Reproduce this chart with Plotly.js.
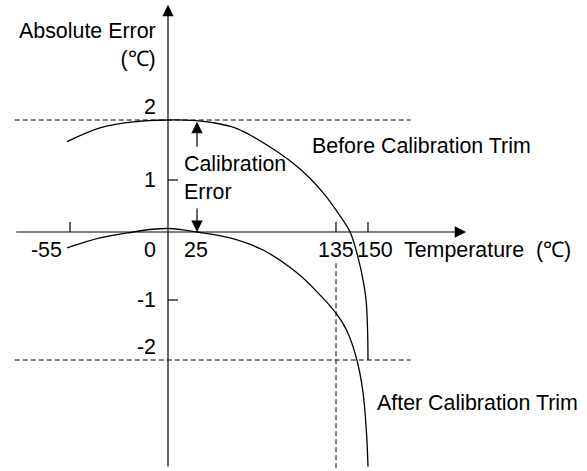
<!DOCTYPE html>
<html>
<head>
<meta charset="utf-8">
<script src="https://cdn.plot.ly/plotly-3.0.1.min.js"></script>
<style>
  html, body { margin: 0; padding: 0; background: #fff; }
  #chart { width: 587px; height: 471px; }
</style>
</head>
<body>
<div id="chart"></div>
<script>
// Labelled temperatures on the horizontal axis (°C)
const xTickTemps = [-55, 0, 25, 135, 150];
const xTickText = ['-55', '0', '25', '135', '150'];
// Labelled error values on the vertical axis (°C)
const yTickErrors = [2, 1, -1, -2];
const yTickText = ['2', '1', '-1', '-2'];

// Error band limits (dashed guides) and the reference temperatures
const errorLimits = [2, -2];
const limitTemp = 135;
const calibrationTemp = 25;

// Absolute error before the calibration trim
const beforeTemp = [-56.7, -38.2, -19.6, 0, 24.1, 39.2, 55.1, 66.9, 82.8, 98.6, 114.4, 126.3, 136.9, 141.6, 145.3, 147.7, 149.1, 149.8, 150];
const beforeErr  = [1.64, 1.87, 1.97, 2.0, 1.99, 1.95, 1.87, 1.75, 1.55, 1.32, 1.03, 0.71, 0.31, 0, -0.37, -0.71, -1.0, -1.5, -2.0];

// Absolute error after the calibration trim
const afterTemp = [-56.7, -38.2, -19.6, -10.1, 0, 12.9, 25, 51.1, 77.2, 104.1, 120, 135, 140.2, 144.8, 147.7, 149.3, 150];
const afterErr  = [-0.235, -0.088, 0, 0.048, 0.067, 0.042, 0, -0.088, -0.265, -0.6, -0.88, -1.22, -1.52, -2.0, -2.55, -3.22, -3.78];

// The sketch is not drawn to scale: each labelled value sits at a fixed
// spot along its axis and the axis is stretched linearly in between.
const xScaleKeys  = [-55, 0, 25, 135, 150];
const xScaleSpots = [0, 98, 127, 266, 298];
const yScaleKeys  = [-2, -1, 0, 1, 2];
const yScaleSpots = [0, 60, 128, 180, 240];

function warp(v, keys, spots) {
  const n = keys.length;
  let i = 0;
  if (v >= keys[n - 1]) i = n - 2;
  else if (v > keys[0]) { while (v > keys[i + 1]) i++; }
  const f = (v - keys[i]) / (keys[i + 1] - keys[i]);
  return spots[i] + f * (spots[i + 1] - spots[i]);
}
const tx = t => warp(t, xScaleKeys, xScaleSpots);
const ty = e => warp(e, yScaleKeys, yScaleSpots);

// Extent of the drawn axes and guides, in °C
const axisTempFrom = -86, axisTempTo = 196;
const axisErrFrom = -3.8, axisErrTo = 3.92;
const guideTempTo = 170;
const limitTopErr = -0.46;

const ink = '#000';
const fontFamily = 'Liberation Sans, Arial, sans-serif';
const textFont = { family: fontFamily, size: 21.4, color: ink };

const curveLine = { color: ink, width: 1.3, shape: 'spline', smoothing: 1 };
const traces = [
  { x: beforeTemp.map(tx), y: beforeErr.map(ty), mode: 'lines', line: curveLine, hoverinfo: 'skip' },
  { x: afterTemp.map(tx), y: afterErr.map(ty), mode: 'lines', line: curveLine, hoverinfo: 'skip' }
];

const dashed = { color: ink, width: 1, dash: '5px,3px' };
const shapes = [];
errorLimits.forEach(e => shapes.push({
  type: 'line', xref: 'x', yref: 'y',
  x0: tx(axisTempFrom), x1: tx(guideTempTo), y0: ty(e), y1: ty(e), line: dashed
}));
shapes.push({
  type: 'line', xref: 'x', yref: 'y',
  x0: tx(limitTemp), x1: tx(limitTemp), y0: ty(limitTopErr), y1: ty(axisErrFrom), line: dashed
});

// Small tick marks: upward on the temperature axis, rightward on the error axis
const tickLine = { color: ink, width: 1.2 };
[-55, 135, 150].forEach(t => shapes.push({
  type: 'line', xref: 'x', yref: 'y', ysizemode: 'pixel', yanchor: ty(0),
  x0: tx(t), x1: tx(t), y0: 0, y1: 10, line: tickLine
}));
[1, -1].forEach(e => shapes.push({
  type: 'line', xref: 'x', yref: 'y', xsizemode: 'pixel', xanchor: tx(0),
  x0: 0, x1: 10, y0: ty(e), y1: ty(e), line: tickLine
}));

function arrow(t1, e1, t0, e0) {
  return {
    xref: 'x', yref: 'y', axref: 'x', ayref: 'y',
    x: tx(t1), y: ty(e1), ax: tx(t0), ay: ty(e0),
    text: '', showarrow: true, arrowhead: 2, arrowsize: 1.9, arrowwidth: 1.2,
    arrowcolor: ink, standoff: 0, startstandoff: 0
  };
}
function label(text, t, e, xanchor, yanchor, extra) {
  return Object.assign({
    xref: 'x', yref: 'y', x: tx(t), y: ty(e), text: text,
    showarrow: false, xanchor: xanchor, yanchor: yanchor,
    font: textFont, borderpad: 0, borderwidth: 0
  }, extra || {});
}

const annotations = [
  // axes with arrow heads
  arrow(axisTempTo, 0, axisTempFrom, 0),
  arrow(0, axisErrTo, 0, axisErrFrom),
  // calibration error span at 25 °C
  arrow(calibrationTemp, 1.97, calibrationTemp, 1.53),
  arrow(calibrationTemp, 0, calibrationTemp, 0.48),
  label('Absolute Error<br>(℃)', 0, 3.25, 'right', 'middle', { align: 'right', xshift: -12 }),
  label('Calibration<br>Error', 14.2, 1.04, 'left', 'middle', { align: 'left' }),
  label('Before Calibration Trim', 116, 1.57, 'left', 'middle'),
  label('Temperature\u00a0\u00a0(℃)', 166.8, -0.265, 'left', 'middle'),
  label('After Calibration Trim', 154, -2.72, 'left', 'middle')
];

// temperature tick labels
const xLabelPlacement = {
  '-55': { xanchor: 'right', xshift: -8 },
  '0':   { xanchor: 'right', xshift: -12 },
  '25':  { xanchor: 'center', xshift: -1 },
  '135': { xanchor: 'center', xshift: 0 },
  '150': { xanchor: 'center', xshift: 7 }
};
xTickTemps.forEach((t, i) => {
  const p = xLabelPlacement[xTickText[i]];
  annotations.push(label(xTickText[i], t, -0.265, p.xanchor, 'middle', { xshift: p.xshift }));
});
// error tick labels (the limit values sit just above their dashed guides)
yTickErrors.forEach((e, i) => {
  const onLimit = errorLimits.includes(e);
  annotations.push(label(yTickText[i], 0, e, 'right', onLimit ? 'bottom' : 'middle',
    { xshift: -12, yshift: onLimit ? 1 : 0 }));
});

const layout = {
  width: 587, height: 471,
  margin: { l: 0, r: 0, t: 0, b: 0 },
  paper_bgcolor: '#fff', plot_bgcolor: '#fff',
  showlegend: false,
  xaxis: { range: [-70, 517], visible: false, fixedrange: true },
  yaxis: { range: [-111, 360], visible: false, fixedrange: true },
  shapes: shapes,
  annotations: annotations
};

Plotly.newPlot('chart', traces, layout, { staticPlot: true, displayModeBar: false });
</script>
</body>
</html>
